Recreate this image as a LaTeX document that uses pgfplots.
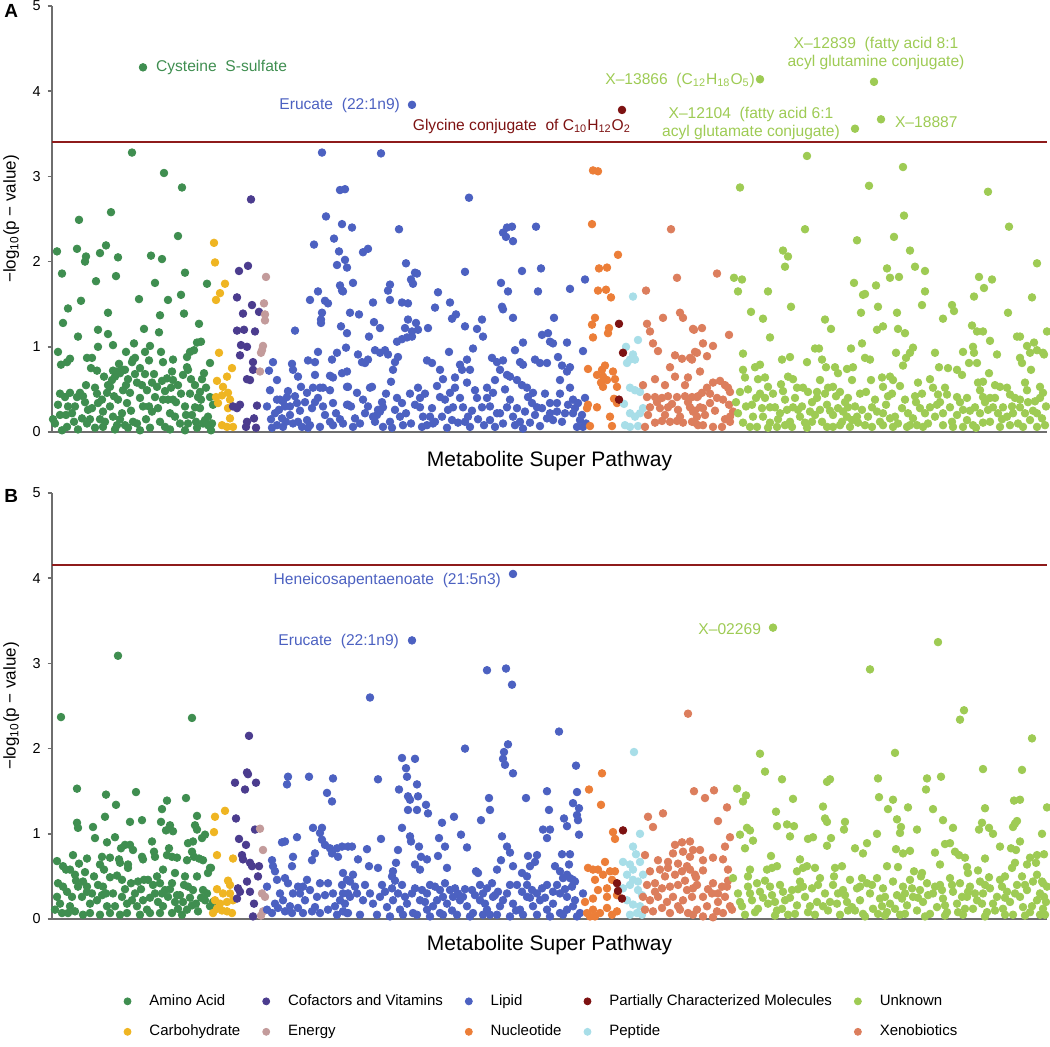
\documentclass[border=0pt]{standalone}
\usepackage{fontspec}
\setmainfont{Liberation Sans}
\usepackage{pgfplots}
\pgfplotsset{compat=1.18}
\definecolor{amino}{HTML}{3F8E50}
\definecolor{carb}{HTML}{EFB522}
\definecolor{cof}{HTML}{4B3C8E}
\definecolor{energy}{HTML}{C39B9B}
\definecolor{lipid}{HTML}{4C61C1}
\definecolor{nucl}{HTML}{EC7E38}
\definecolor{partial}{HTML}{7D1212}
\definecolor{pept}{HTML}{A8DEE8}
\definecolor{unk}{HTML}{9ECB54}
\definecolor{xeno}{HTML}{DC7E5D}
\definecolor{thresh}{HTML}{8E1B1B}
\definecolor{axgray}{HTML}{6E6E6E}
\newcommand\annf{\fontsize{7.8}{9}\selectfont}
\pgfplotsset{
 manh/.style={
  scale only axis, width=497.5pt, height=213pt,
  xmin=52, xmax=1047, ymin=0, ymax=5,
  axis x line=bottom, axis y line=left,
  axis line style={-, draw=axgray, line width=1pt},
  xtick=\empty, ytick={0,1,2,3,4,5},
  tick align=outside, major tick length=2.2pt,
  every tick/.style={draw=axgray, line width=0.8pt},
  /pgf/number format/assume math mode=true,
  y tick label style={font=\fontsize{7.2}{8}\selectfont, text=black},
  ylabel={−log\textsubscript{10}(p − value)},
  ylabel style={at={(axis description cs:-0.041,0.5)}, anchor=center, font=\fontsize{8.5}{10}\selectfont},
  xlabel={Metabolite Super Pathway},
  xlabel style={anchor=center, font=\fontsize{10.5}{12}\selectfont},
  clip=false,
 },
 pt/.style={only marks, mark=*, mark size=1.9pt, forget plot},
 mylegimg/.style={legend image code/.code={\draw[mark repeat=1,##1] plot coordinates {(0pt,0pt)};}},
}
\begin{document}
\begin{tikzpicture}
\useasboundingbox (-26pt,-307pt) rectangle (499pt,216pt);
%%%%%%%%%%%%%%%%%%%%%%%% PANEL A
\begin{axis}[manh, xlabel style={at={(axis description cs:0.5,-0.068)}}]
\addplot[pt,amino] coordinates {(143,4.28) (132,3.28) (164,3.04) (182,2.87) (111,2.58) (79,2.49) (178,2.30) (57,2.12) (77,2.15) (106,2.19) (100,2.10) (86,2.06) (85,2.00) (118,2.05) (151,2.07) (162,2.03) (62,1.86) (185,1.87) (96,1.77) (116,1.83) (155,1.75) (207,1.74) (139,1.56) (168,1.55) (181,1.61) (81,1.54) (68,1.45) (108,1.40) (160,1.37) (184,1.39) (63,1.28) (199,1.27) (98,1.20) (144,1.21) (159,1.17) (108,1.15) (78,1.12) (201,1.06) (197,1.05) (113,1.02) (134,1.04) (98,1.00) (150,1.01) (58,0.94) (126,0.94) (145,0.94) (161,0.94) (190,0.94) (194,0.96) (87,0.87) (92,0.87) (70,0.86) (67,0.82) (61,0.79) (135,0.87) (132,0.82) (173,0.85) (187,0.88) (210,0.81) (91,0.75) (97,0.72) (119,0.80) (125,0.73) (113,0.72) (140,0.75) (149,0.84) (163,0.82) (172,0.71) (188,0.73) (204,0.69) (58,0.32) (60,0.20) (55,0.10) (67,0.06) (65,0.41) (70,0.46) (77,0.41) (72,0.22) (80,0.46) (82,0.16) (88,0.26) (92,0.28) (95,0.52) (98,0.34) (102,0.38) (103,0.24) (107,0.46) (110,0.53) (112,0.61) (115,0.65) (117,0.71) (120,0.69) (123,0.73) (118,0.38) (123,0.49) (127,0.34) (122,0.22) (130,0.46) (117,0.08) (125,0.08) (133,0.85) (137,0.58) (140,0.40) (143,0.30) (137,0.10) (147,0.49) (152,0.58) (155,0.41) (157,0.53) (152,0.24) (163,0.38) (167,0.63) (168,0.38) (165,0.06) (173,0.61) (173,0.38) (178,0.55) (175,0.18) (180,0.10) (183,0.67) (187,0.76) (188,0.10) (192,0.20) (195,0.29) (198,0.41) (200,0.28) (203,0.10) (205,0.14) (208,0.18) (210,0.41) (213,0.32) (208,0.08) (87,0.10) (95,0.05) (150,0.05) (197,0.05) (103,0.06) (53,0.15) (75,0.30) (85,0.35) (100,0.15) (110,0.30) (113,0.18) (128,0.62) (133,0.12) (145,0.68) (158,0.28) (162,0.60) (170,0.22) (185,0.30) (190,0.45) (195,0.55) (202,0.62) (211,0.02) (62,0.02) (78,0.03) (115,0.03) (140,0.02) (170,0.03) (185,0.02) (200,0.47)
(60,0.45) (68,0.30) (74,0.12) (83,0.42) (90,0.15) (97,0.45) (105,0.12) (108,0.55) (114,0.42) (120,0.15) (126,0.55) (131,0.25) (135,0.68) (142,0.55) (146,0.15) (149,0.30) (154,0.68) (160,0.12) (165,0.48) (171,0.52) (176,0.35) (181,0.45) (186,0.20) (191,0.62) (196,0.12) (201,0.38) (206,0.52) (212,0.10) (66,0.20) (86,0.55) (104,0.65) (128,0.05)};
\addplot[pt,carb] coordinates {(214,2.22) (215,1.99) (225,1.74) (220,1.63) (216,1.55) (219,0.93) (232,0.75) (227,0.65) (217,0.60) (223,0.53) (216,0.41) (222,0.43) (228,0.46) (230,0.38) (218,0.34) (228,0.28) (230,0.16) (222,0.08) (227,0.06) (233,0.06)};
\addplot[pt,cof] coordinates {(251,2.73) (248,1.95) (239,1.89) (237,1.58) (252,1.49) (259,1.41) (243,1.39) (237,1.19) (244,1.20) (255,1.18) (241,1.02) (247,1.00) (240,0.90) (253,0.82) (253,0.73) (247,0.62) (250,0.61) (233,0.30) (240,0.32) (237,0.28) (257,0.31) (247,0.12) (254,0.16) (246,0.06) (256,0.05)};
\addplot[pt,energy] coordinates {(266,1.82) (264,1.51) (265,1.38) (265,1.31) (263,1.01) (262,0.96) (261,0.93) (260,0.71)};
\addplot[pt,lipid] coordinates {(412,3.84) (381,3.27) (322,3.28) (340,2.84) (345,2.85) (326,2.53) (342,2.44) (334,2.27) (314,2.20) (339,2.12) (337,1.96) (347,1.93) (340,1.72) (342,1.66) (318,1.65) (310,1.55) (325,1.54) (328,1.51) (322,1.40) (321,1.32) (321,1.28) (341,1.24) (347,1.16) (295,1.19) (318,0.94) (337,0.93) (308,0.84) (315,0.82) (332,0.85) (273,0.82) (292,0.80) (293,0.73) (269,0.72) (315,0.67) (330,0.66) (333,0.64) (298,0.65) (277,0.61) (301,0.53) (313,0.52) (320,0.52) (323,0.52) (330,0.49) (270,0.49) (307,0.46) (287,0.41) (348,0.53) (277,0.38) (280,0.38) (283,0.36) (285,0.30) (267,0.30) (297,0.34) (333,0.34) (312,0.28) (290,0.20) (307,0.14) (282,0.16) (277,0.08) (283,0.06) (293,0.10) (302,0.06) (308,0.05) (320,0.06) (330,0.12) (333,0.08) (347,0.32) (275,0.22) (290,0.30) (298,0.12) (315,0.35) (325,0.20) (340,0.15) (272,0.05) (288,0.48)
(469,2.75) (352,2.40) (399,2.38) (507,2.40) (512,2.41) (503,2.34) (506,2.29) (513,2.24) (536,2.41) (363,2.11) (368,2.15) (345,2.02) (406,1.98) (465,1.88) (522,1.89) (541,1.92) (415,1.87) (417,1.86) (411,1.79) (413,1.74) (353,1.75) (343,1.65) (390,1.73) (388,1.66) (438,1.64) (501,1.75) (508,1.65) (538,1.65) (570,1.68) (585,1.79) (373,1.52) (390,1.55) (402,1.52) (408,1.51) (450,1.52) (435,1.46) (502,1.47) (503,1.44) (350,1.40) (359,1.38) (374,1.29) (380,1.22) (408,1.32) (416,1.28) (405,1.22) (418,1.20) (412,1.18) (428,1.22) (452,1.33) (456,1.38) (465,1.24) (477,1.21) (482,1.32) (483,1.12) (513,1.34) (542,1.14) (548,1.16) (554,1.34) (369,1.12) (397,1.06) (402,1.09) (407,1.11) (412,1.12) (346,0.99) (550,1.06) (553,1.04) (567,1.05) (583,0.95) (375,0.96) (380,0.93) (385,0.96) (388,0.91) (358,0.91) (362,0.82) (365,0.81) (368,0.85) (398,0.88) (449,0.94) (473,0.98) (515,0.96) (523,1.05) (427,0.84) (432,0.81) (395,0.82) (393,0.73) (440,0.73) (460,0.79) (467,0.85) (462,0.73) (470,0.73) (492,0.87) (497,0.82) (503,0.84) (520,0.82) (523,0.79) (535,0.85) (540,0.81) (547,0.81) (558,0.88) (562,0.78) (570,0.76) (567,0.71) (347,0.53) (357,0.46) (363,0.38) (370,0.52) (372,0.53) (391,0.59) (382,0.35) (383,0.29) (378,0.26) (377,0.20) (402,0.34) (395,0.26) (400,0.18) (403,0.08) (420,0.40) (420,0.29) (423,0.18) (427,0.08) (422,0.06) (430,0.18) (437,0.54) (440,0.41) (445,0.38) (450,0.46) (455,0.52) (443,0.62) (455,0.64) (467,0.58) (448,0.26) (453,0.29) (458,0.11) (463,0.29) (468,0.18) (470,0.06) (475,0.49) (477,0.40) (482,0.29) (487,0.40) (487,0.52) (493,0.46) (495,0.61) (500,0.73) (507,0.67) (510,0.65) (517,0.61) (522,0.55) (490,0.14) (497,0.22) (495,0.06) (507,0.29) (513,0.18) (520,0.12) (525,0.24) (527,0.52) (528,0.41) (533,0.46) (532,0.34) (537,0.29) (542,0.28) (530,0.11) (540,0.07) (547,0.16) (553,0.14) (557,0.24) (550,0.34) (557,0.34) (560,0.61) (570,0.52) (573,0.38) (578,0.34) (565,0.22) (573,0.22) (580,0.14) (577,0.06) (583,0.06) (355,0.16) (353,0.06) (365,0.22) (373,0.18) (375,0.12) (380,0.24) (390,0.12) (383,0.06) (342,0.69) (347,0.71) (348,0.32) (410,0.45) (433,0.10) (505,0.50) (515,0.08) (560,0.45) (585,0.40)
(271,0.15) (279,0.26) (286,0.12) (295,0.42) (300,0.25) (305,0.35) (310,0.08) (318,0.40) (323,0.30) (336,0.22) (343,0.10) (351,0.30) (360,0.10) (368,0.30) (386,0.45) (392,0.05) (397,0.40) (406,0.22) (411,0.10) (415,0.32) (418,0.52) (425,0.45) (432,0.28) (435,0.12) (442,0.18) (447,0.05) (452,0.14) (460,0.40) (465,0.12) (472,0.25) (478,0.15) (484,0.08) (490,0.30) (500,0.22) (503,0.10) (510,0.38) (517,0.28) (523,0.04) (535,0.20) (545,0.45) (550,0.22) (562,0.12) (568,0.32) (575,0.28) (582,0.20) (586,0.10)};
\addplot[pt,nucl] coordinates {(593,3.07) (598,3.06) (592,2.44) (618,2.08) (599,1.92) (607,1.93) (598,1.66) (606,1.67) (611,1.58) (595,1.34) (592,1.26) (609,1.22) (608,1.16) (593,1.11) (588,0.74) (597,0.67) (603,0.65) (605,0.78) (602,0.73) (607,0.61) (613,0.71) (615,0.62) (617,0.53) (601,0.58) (603,0.53) (588,0.32) (587,0.28) (597,0.29) (610,0.18) (612,0.07) (590,0.07) (614,0.39) (617,0.34)};
\addplot[pt,pept] coordinates {(633,1.59) (638,1.08) (626,1.00) (633,0.91) (630,0.85) (627,0.81) (635,0.85) (630,0.52) (635,0.49) (640,0.47) (624,0.33) (630,0.22) (635,0.18) (640,0.22) (643,0.28) (625,0.08) (630,0.06) (638,0.07)};
\addplot[pt,partial] coordinates {(622,3.78) (619,1.27) (623,0.93) (619,0.38)};
\addplot[pt,xeno] coordinates {(671,2.38) (677,1.81) (646,1.66) (663,1.34) (680,1.40) (683,1.34) (647,1.27) (650,1.18) (693,1.21) (653,1.04) (658,0.95) (675,0.90) (682,0.86) (690,0.87) (697,0.93) (670,0.76) (688,0.64) (643,0.55) (647,0.41) (655,0.41) (662,0.40) (668,0.42) (677,0.41) (685,0.42) (692,0.41) (698,0.42) (650,0.29) (660,0.28) (668,0.29) (678,0.26) (690,0.29) (695,0.25) (655,0.11) (662,0.13) (670,0.12) (677,0.13) (683,0.11) (692,0.12) (698,0.08) (645,0.06) (717,1.86) (694,1.20) (702,1.22) (729,1.14) (703,1.04) (713,1.01) (695,0.94) (692,0.85) (707,0.89) (700,0.71) (713,0.58) (720,0.60) (725,0.55) (728,0.52) (707,0.52) (702,0.46) (697,0.41) (730,0.47) (710,0.34) (717,0.40) (723,0.38) (729,0.32) (700,0.29) (703,0.28) (693,0.24) (695,0.11) (703,0.08) (713,0.06) (722,0.06) (730,0.12) (733,0.24) (730,0.18) (665,0.55) (685,0.55) (655,0.62) (675,0.65) (648,0.20) (657,0.35) (665,0.20) (672,0.33) (680,0.18) (688,0.35) (697,0.18) (705,0.20) (715,0.25) (725,0.15) (710,0.45)};
\addplot[pt,unk] coordinates {(760,4.14) (874,4.11) (881,3.67) (855,3.56) (807,3.24) (903,3.11) (740,2.87) (869,2.89) (988,2.82) (904,2.54) (805,2.38) (1009,2.41) (857,2.25) (894,2.29) (783,2.13) (788,2.06) (785,1.94) (910,2.13) (915,1.94) (887,1.92) (890,1.81) (899,1.82) (925,1.89) (1037,1.98) (979,1.82) (992,1.79) (984,1.69) (734,1.81) (742,1.79) (854,1.75) (876,1.72) (738,1.65) (768,1.65) (865,1.62) (863,1.61) (925,1.65) (974,1.59) (1032,1.58) (922,1.49) (791,1.47) (952,1.49) (954,1.42) (878,1.47) (751,1.41) (861,1.40) (897,1.40) (1008,1.40) (763,1.33) (825,1.32) (831,1.21) (943,1.33) (877,1.20) (883,1.24) (898,1.21) (905,1.16) (972,1.25) (977,1.18) (983,1.18) (1017,1.12) (1020,1.12) (1047,1.18) (770,1.11) (990,1.07) (743,0.92) (815,0.98) (819,0.98) (851,0.98) (862,1.04) (913,0.99) (910,0.93) (906,0.87) (903,0.78) (896,0.93) (935,0.93) (963,0.94) (973,1.00) (974,0.93) (977,0.81) (969,0.81) (997,0.91) (1027,1.01) (1034,1.05) (1030,0.93) (1037,0.96) (1043,0.93) (1020,0.87) (1022,0.81) (1044,0.91)
(755,0.76) (760,0.79) (790,0.88) (782,0.85) (807,0.82) (822,0.85) (826,0.76) (835,0.76) (838,0.69) (847,0.74) (853,0.76) (870,0.85) (865,0.87) (890,0.65) (893,0.61) (882,0.64) (939,0.76) (948,0.75) (957,0.73) (962,0.67) (989,0.69) (1031,0.73) (745,0.64) (743,0.73) (758,0.62) (765,0.64) (768,0.53) (781,0.56) (788,0.65) (793,0.62) (797,0.52) (803,0.52) (808,0.47) (817,0.47) (820,0.61) (828,0.52) (833,0.53) (840,0.47) (852,0.61) (871,0.61) (883,0.53) (888,0.42) (900,0.54) (918,0.58) (930,0.62) (933,0.52) (947,0.44) (938,0.44) (957,0.41) (967,0.40) (978,0.58) (983,0.59) (980,0.49) (983,0.41) (995,0.55) (1000,0.53) (1007,0.52) (1010,0.44) (1015,0.40) (1020,0.38) (1025,0.58) (1027,0.49) (1040,0.53) (1043,0.46)
(740,0.47) (738,0.22) (743,0.11) (750,0.06) (757,0.06) (752,0.32) (753,0.18) (765,0.40) (770,0.29) (775,0.29) (780,0.22) (763,0.18) (770,0.11) (785,0.38) (787,0.26) (793,0.29) (798,0.26) (800,0.18) (805,0.11) (812,0.12) (810,0.24) (815,0.20) (820,0.26) (817,0.40) (827,0.32) (785,0.08) (792,0.06) (777,0.06) (827,0.06) (833,0.06) (840,0.08) (833,0.20) (838,0.28) (843,0.24) (848,0.29) (847,0.18) (852,0.14) (857,0.18) (862,0.26) (858,0.11) (865,0.08) (872,0.06) (872,0.29) (877,0.24) (883,0.22) (890,0.16) (895,0.18) (902,0.28) (908,0.22) (913,0.16) (920,0.28) (883,0.08) (893,0.06) (907,0.06) (917,0.08) (923,0.06) (925,0.22) (930,0.29) (937,0.32) (935,0.18) (943,0.22) (950,0.29) (957,0.20) (963,0.26) (967,0.14) (943,0.08) (953,0.06) (963,0.06) (973,0.08) (983,0.11) (975,0.29) (980,0.22) (988,0.26) (993,0.29) (998,0.22) (1003,0.29) (1007,0.18) (1013,0.22) (1020,0.29) (1025,0.22) (1030,0.14) (1037,0.22) (1042,0.16) (1045,0.08) (1037,0.06) (1023,0.06) (1010,0.08) (1000,0.06) (760,0.45) (848,0.40) (866,0.47) (915,0.42) (990,0.40) (1035,0.36)
(736,0.35) (746,0.30) (748,0.50) (756,0.40) (762,0.28) (768,0.05) (773,0.45) (778,0.15) (783,0.48) (790,0.12) (795,0.40) (802,0.30) (807,0.05) (812,0.35) (822,0.12) (825,0.45) (830,0.25) (836,0.42) (842,0.12) (845,0.35) (850,0.06) (855,0.30) (860,0.45) (868,0.18) (875,0.38) (880,0.12) (886,0.32) (892,0.45) (898,0.10) (905,0.38) (910,0.08) (916,0.35) (922,0.45) (928,0.10) (940,0.35) (945,0.52) (952,0.12) (960,0.35) (970,0.25) (976,0.05) (985,0.35) (990,0.12) (995,0.40) (1002,0.15) (1012,0.30) (1018,0.10) (1028,0.35) (1033,0.25) (1040,0.40) (1046,0.30)};
\addplot[thresh, line width=1pt, forget plot] coordinates {(52,3.40) (1047,3.40)};
\node[anchor=center, font=\bfseries\fontsize{9.5}{11}\selectfont] at (rel axis cs:-0.041,0.989) {A};
\node[anchor=west, text=amino, font=\annf] at (axis cs:149,4.28) {Cysteine\ \ S-sulfate};
\node[anchor=east, text=lipid, font=\annf] at (axis cs:407,3.83) {Erucate\ \ (22:1n9)};
\node[anchor=east, text=partial, font=\annf] at (axis cs:638,3.59) {Glycine conjugate\ \ of C\textsubscript{10}H\textsubscript{12}O\textsubscript{2}};
\node[anchor=east, text=unk, font=\annf] at (axis cs:762,4.13) {X–13866\ \ (C\textsubscript{12}H\textsubscript{18}O\textsubscript{5})};
\node[align=center, text=unk, font=\annf] at (axis cs:876,4.44) {X–12839\ \ (fatty acid 8:1\\acyl glutamine conjugate)};
\node[align=center, text=unk, font=\annf] at (axis cs:751,3.62) {X–12104\ \ (fatty acid 6:1\\acyl glutamate conjugate)};
\node[anchor=west, text=unk, font=\annf] at (axis cs:888,3.64) {X–18887};
\end{axis}
%%%%%%%%%%%%%%%%%%%%%%%% PANEL B
\begin{axis}[manh, at={(0pt,-243.5pt)},
  xlabel style={at={(axis description cs:0.5,-0.062)}},
  legend columns=5, legend cell align=left,
  legend style={at={(axis description cs:0.0724,-0.177)}, anchor=north west, draw=none, fill=none,
    inner sep=0pt, outer sep=0pt, nodes={inner sep=0pt}, font=\fontsize{7.5}{9}\selectfont,
    row sep=8.3pt,
    /tikz/every odd column/.append style={column sep=9.2pt},
    /tikz/every even column/.append style={column sep=11.2pt}},
]
\addplot[pt,amino] coordinates {(61,2.37) (118,3.09) (192,2.36) (77,1.53) (106,1.46) (136,1.49) (186,1.42) (116,1.34) (167,1.39) (162,1.29) (105,1.20) (197,1.21) (77,1.13) (78,1.07) (93,1.08) (130,1.14) (142,1.16) (161,1.14) (166,1.04) (170,1.10) (173,1.03) (195,1.10) (197,1.05) (202,0.95) (205,0.99) (95,0.95) (115,0.96) (107,0.90) (152,0.91) (188,0.89) (193,0.91) (121,0.83) (125,0.87) (130,0.87) (133,0.81) (169,0.83) (57,0.68) (73,0.75) (87,0.71) (102,0.73) (100,0.64) (110,0.72) (119,0.70) (120,0.66) (128,0.64) (128,0.60) (142,0.73) (143,0.70) (154,0.79) (155,0.73) (167,0.75) (172,0.73) (177,0.72) (187,0.69) (192,0.79) (194,0.73) (199,0.71) (203,0.69) (210,0.60) (63,0.62) (66,0.58) (70,0.58) (75,0.52) (79,0.65) (83,0.44) (87,0.38) (94,0.50) (104,0.58) (110,0.49) (117,0.51) (122,0.46) (131,0.42) (138,0.44) (144,0.46) (148,0.46) (157,0.50) (163,0.58) (160,0.42) (165,0.34) (175,0.54) (172,0.42) (177,0.28) (185,0.50) (188,0.38) (193,0.34) (197,0.50) (203,0.34) (208,0.54) (211,0.60) (57,0.26) (60,0.18) (63,0.38) (67,0.32) (72,0.26) (78,0.38) (82,0.26) (87,0.32) (90,0.18) (97,0.22) (103,0.38) (102,0.28) (107,0.15) (113,0.30) (122,0.26) (127,0.18) (132,0.22) (137,0.15) (143,0.22) (147,0.11) (155,0.30) (158,0.20) (163,0.15) (168,0.26) (175,0.20) (180,0.28) (183,0.20) (187,0.11) (192,0.16) (198,0.09) (205,0.22) (210,0.15) (213,0.20) (55,0.11) (62,0.07) (68,0.07) (75,0.09) (83,0.05) (90,0.07) (100,0.05) (110,0.07) (120,0.05) (127,0.07) (140,0.05) (150,0.07) (160,0.07) (172,0.07) (182,0.05)
(58,0.42) (70,0.15) (76,0.45) (85,0.55) (92,0.30) (98,0.40) (106,0.30) (115,0.15) (125,0.35) (135,0.30) (141,0.35) (150,0.25) (153,0.40) (162,0.30) (170,0.35) (178,0.12) (184,0.40) (190,0.25) (196,0.18) (201,0.25) (207,0.30)};
\addplot[pt,carb] coordinates {(225,1.27) (215,1.20) (214,1.02) (217,0.75) (233,0.71) (228,0.45) (230,0.40) (217,0.35) (223,0.30) (230,0.30) (215,0.22) (220,0.18) (227,0.20) (233,0.22) (217,0.12) (222,0.10) (227,0.09) (232,0.07) (213,0.07)};
\addplot[pt,cof] coordinates {(249,2.15) (247,1.72) (248,1.70) (235,1.60) (256,1.60) (245,1.52) (236,1.18) (255,1.05) (239,0.94) (246,0.87) (242,0.75) (243,0.70) (250,0.66) (252,0.62) (259,0.62) (258,0.50) (247,0.44) (238,0.36) (240,0.32) (250,0.32) (237,0.24) (254,0.18) (253,0.03)};
\addplot[pt,energy] coordinates {(260,1.06) (263,0.81) (262,0.30) (265,0.26) (263,0.09) (261,0.04)};
\addplot[pt,lipid] coordinates {(288,1.67) (287,1.58) (309,1.67) (333,1.65) (327,1.48) (332,1.38) (313,1.07) (322,1.07) (320,1.01) (297,0.96) (282,0.90) (285,0.91) (272,0.69) (293,0.73) (292,0.62) (315,0.77) (312,0.69) (322,0.93) (325,0.87) (330,0.83) (332,0.77) (337,0.83) (342,0.85) (338,0.73) (348,0.85) (273,0.62) (275,0.56) (267,0.38) (277,0.46) (285,0.48) (288,0.42) (280,0.30) (283,0.22) (293,0.30) (298,0.38) (300,0.30) (303,0.38) (307,0.46) (310,0.34) (317,0.26) (320,0.42) (328,0.42) (333,0.30) (340,0.22) (347,0.46) (348,0.30) (267,0.11) (272,0.07) (278,0.13) (285,0.09) (292,0.07) (298,0.13) (303,0.07) (312,0.09) (320,0.07) (328,0.11) (337,0.05) (343,0.09) (348,0.07)
(513,4.05) (412,3.27) (487,2.92) (506,2.94) (512,2.75) (370,2.60) (559,2.20) (465,2.00) (508,2.05) (504,1.96) (503,1.88) (505,1.81) (513,1.71) (402,1.89) (415,1.88) (406,1.77) (407,1.67) (378,1.64) (576,1.80) (399,1.52) (417,1.58) (408,1.44) (410,1.40) (418,1.44) (426,1.34) (428,1.24) (489,1.42) (490,1.28) (526,1.42) (547,1.50) (549,1.28) (577,1.49) (573,1.36) (579,1.30) (577,1.22) (578,1.16) (408,1.28) (417,1.28) (454,1.20) (442,1.13) (481,1.16) (402,1.07) (564,1.18) (567,1.09) (543,1.05) (550,1.05) (381,0.94) (410,0.97) (411,0.91) (419,0.85) (439,0.95) (461,0.99) (502,0.97) (547,0.95) (579,0.99) (352,0.85) (367,0.82) (398,0.81) (445,0.85) (467,0.84) (507,0.85) (510,0.78) (421,0.73) (427,0.70) (438,0.74) (528,0.74) (537,0.75) (535,0.67) (562,0.76) (570,0.76) (358,0.70) (396,0.66) (369,0.62) (378,0.60) (501,0.69) (513,0.62) (530,0.62) (555,0.62) (569,0.64) (393,0.56) (392,0.50) (415,0.64) (420,0.58) (447,0.60) (476,0.56) (478,0.54) (497,0.58) (522,0.54) (527,0.50) (560,0.56) (563,0.48) (570,0.48) (573,0.46) (567,0.52) (343,0.54) (353,0.52) (350,0.44) (342,0.40)
(382,0.40) (392,0.36) (398,0.30) (402,0.40) (415,0.36) (422,0.34) (427,0.30) (430,0.40) (435,0.38) (440,0.34) (443,0.26) (450,0.34) (455,0.36) (458,0.30) (463,0.26) (472,0.34) (480,0.40) (483,0.30) (487,0.36) (492,0.42) (495,0.28) (498,0.32) (517,0.40) (522,0.32) (527,0.40) (532,0.34) (537,0.30) (542,0.36) (547,0.40) (553,0.32) (560,0.30) (567,0.26) (572,0.38) (575,0.44) (343,0.30) (350,0.26) (357,0.30) (363,0.22) (370,0.30) (373,0.18) (380,0.26) (387,0.14) (393,0.22) (400,0.11) (407,0.18) (413,0.07) (420,0.22) (427,0.11) (433,0.15) (440,0.07) (447,0.18) (453,0.26) (460,0.22) (467,0.15) (473,0.07) (480,0.22) (487,0.11) (493,0.26) (500,0.15) (507,0.30) (513,0.18) (520,0.11) (527,0.26) (533,0.15) (540,0.22) (547,0.11) (553,0.18) (560,0.07) (567,0.11) (573,0.15) (580,0.07) (347,0.07) (360,0.05) (377,0.05) (390,0.03) (403,0.05) (417,0.05) (430,0.03) (443,0.05) (457,0.05) (470,0.03) (483,0.05) (497,0.05) (510,0.03) (523,0.05) (537,0.05) (550,0.03) (563,0.05) (577,0.03)
(275,0.18) (290,0.15) (305,0.22) (315,0.14) (325,0.28) (335,0.15) (345,0.18) (355,0.38) (365,0.40) (385,0.32) (395,0.45) (405,0.26) (412,0.30) (425,0.20) (437,0.22) (445,0.42) (452,0.10) (465,0.35) (475,0.28) (485,0.18) (490,0.05) (503,0.22) (510,0.40) (516,0.10) (530,0.25) (545,0.25) (557,0.40) (565,0.35) (575,0.22) (583,0.30)};
\addplot[pt,nucl] coordinates {(602,1.71) (589,1.52) (601,1.34) (613,1.02) (615,0.94) (605,0.67) (588,0.60) (593,0.58) (598,0.58) (603,0.52) (610,0.56) (615,0.56) (595,0.46) (598,0.34) (607,0.36) (612,0.46) (585,0.20) (593,0.24) (607,0.26) (617,0.28) (587,0.07) (593,0.11) (600,0.07) (607,0.13) (612,0.05) (617,0.09) (590,0.03) (595,0.03)};
\addplot[pt,pept] coordinates {(634,1.96) (640,1.00) (633,0.85) (636,0.76) (623,0.67) (630,0.64) (633,0.58) (640,0.67) (627,0.52) (633,0.46) (638,0.44) (643,0.52) (623,0.36) (630,0.40) (638,0.34) (642,0.28) (627,0.22) (633,0.17) (640,0.15) (637,0.07) (630,0.05) (642,0.05)};
\addplot[pt,partial] coordinates {(623,1.04) (617,0.42) (618,0.33) (622,0.24)};
\addplot[pt,xeno] coordinates {(688,2.41) (694,1.50) (663,1.24) (648,1.20) (653,1.08) (675,0.87) (682,0.90) (690,0.91) (673,0.77) (683,0.79) (690,0.73) (693,0.81) (645,0.75) (658,0.69) (668,0.67) (678,0.65) (687,0.62) (650,0.56) (660,0.58) (668,0.60) (675,0.52) (682,0.56) (690,0.58) (695,0.52) (647,0.40) (655,0.42) (662,0.36) (670,0.38) (678,0.40) (687,0.34) (693,0.36) (643,0.26) (650,0.22) (658,0.26) (667,0.20) (673,0.26) (683,0.22) (692,0.26) (645,0.11) (653,0.09) (662,0.13) (670,0.07) (680,0.11) (688,0.07) (697,0.11) (705,1.42) (714,1.51) (727,1.31) (718,1.15) (700,0.81) (725,0.85) (730,0.96) (703,0.69) (713,0.72) (723,0.70) (703,0.57) (696,0.49) (713,0.42) (722,0.38) (728,0.58) (727,0.38) (703,0.26) (712,0.30) (718,0.20) (725,0.26) (730,0.15) (707,0.15) (717,0.09) (723,0.07) (732,0.11) (693,0.05) (703,0.03) (713,0.02) (655,0.32) (665,0.50) (678,0.15) (685,0.45) (697,0.40) (708,0.35) (718,0.30) (728,0.45)};
\addplot[pt,unk] coordinates {(773,3.42) (938,3.25) (870,2.93) (964,2.45) (960,2.34) (1032,2.12) (760,1.94) (895,1.95) (765,1.73) (983,1.76) (1022,1.75) (782,1.64) (830,1.64) (827,1.61) (878,1.65) (927,1.65) (941,1.67) (737,1.53) (746,1.45) (743,1.38) (793,1.41) (926,1.52) (879,1.43) (893,1.40) (1014,1.39) (1020,1.40) (823,1.32) (888,1.29) (908,1.31) (933,1.29) (985,1.30) (1047,1.31) (776,1.26) (825,1.18) (827,1.14) (845,1.14) (844,1.05) (897,1.17) (901,1.08) (900,1.01) (943,1.16) (777,1.09) (787,1.11) (794,1.09) (982,1.13) (979,1.05) (989,1.07) (993,1.00) (1015,1.12) (1017,1.15) (1013,1.08) (953,1.07) (917,1.05) (740,0.99) (747,1.07) (750,1.04) (790,0.97) (877,1.00) (1042,1.00) (808,0.94) (813,0.96) (831,0.95) (827,0.86) (867,0.89) (863,0.77) (855,0.83) (910,0.80) (945,0.88) (950,0.89) (1020,0.91) (1000,0.85) (1011,0.83) (1016,0.81) (745,0.83) (753,0.92) (771,0.74) (896,0.82) (903,0.77) (935,0.78) (955,0.79) (959,0.75) (965,0.72) (985,0.71) (1030,0.72) (1037,0.75) (1044,0.76) (1036,0.66) (800,0.70) (807,0.62) (803,0.60) (733,0.48) (750,0.58) (748,0.50) (767,0.58) (772,0.60) (777,0.62) (797,0.56) (815,0.60) (835,0.60) (842,0.62) (834,0.50) (887,0.62) (898,0.61) (914,0.56) (922,0.54) (940,0.64) (967,0.61) (968,0.54) (978,0.57) (989,0.49) (1005,0.50) (1012,0.60) (1015,0.66) (1027,0.64) (1037,0.52) (1043,0.42)
(738,0.30) (742,0.15) (748,0.38) (752,0.22) (755,0.08) (760,0.32) (765,0.45) (768,0.18) (772,0.28) (777,0.10) (780,0.40) (785,0.22) (788,0.05) (792,0.34) (797,0.16) (800,0.44) (805,0.26) (808,0.08) (812,0.36) (817,0.20) (820,0.48) (825,0.30) (828,0.10) (833,0.40) (837,0.18) (840,0.05) (845,0.28) (850,0.46) (852,0.14) (857,0.36) (860,0.22) (863,0.06) (867,0.42) (870,0.30) (873,0.12) (877,0.48) (880,0.24) (883,0.36) (887,0.08) (890,0.18) (893,0.44) (897,0.28) (900,0.05) (903,0.38) (907,0.16) (910,0.46) (913,0.26) (917,0.10) (920,0.34) (923,0.20) (927,0.42) (930,0.06) (933,0.30) (937,0.14) (940,0.40) (943,0.24) (947,0.08) (950,0.48) (953,0.32) (957,0.18) (960,0.42) (963,0.05) (967,0.26) (970,0.38) (973,0.12) (977,0.22) (980,0.44) (983,0.30) (987,0.08) (990,0.36) (993,0.18) (997,0.26) (1000,0.46) (1003,0.12) (1007,0.32) (1010,0.20) (1013,0.05) (1017,0.40) (1020,0.26) (1023,0.14) (1027,0.34) (1030,0.08) (1033,0.44) (1037,0.22) (1040,0.30) (1043,0.12) (1046,0.20) (1047,0.38) (745,0.05) (758,0.12) (775,0.04) (795,0.06) (815,0.05) (848,0.10) (865,0.03) (885,0.04) (905,0.06) (925,0.03) (945,0.04) (965,0.12) (985,0.03) (1005,0.05) (1025,0.04) (1045,0.05) (763,0.25) (783,0.32) (803,0.38) (823,0.15) (843,0.34) (862,0.48) (882,0.15) (902,0.24) (921,0.50) (942,0.34) (962,0.26) (982,0.18) (1002,0.38) (1022,0.50) (1042,0.44)
(740,0.20) (750,0.30) (757,0.42) (770,0.38) (775,0.20) (782,0.12) (790,0.25) (798,0.35) (810,0.15) (818,0.40) (830,0.20) (838,0.30) (847,0.20) (855,0.10) (860,0.38) (872,0.40) (878,0.06) (885,0.26) (895,0.12) (905,0.30) (912,0.36) (918,0.25) (928,0.28) (935,0.38) (945,0.16) (952,0.40) (958,0.08) (968,0.32) (975,0.30) (985,0.40) (995,0.10) (1005,0.25) (1015,0.30) (1025,0.40) (1032,0.15) (1040,0.05) (1044,0.26)};
\addplot[thresh, line width=1pt, forget plot] coordinates {(52,4.15) (1047,4.15)};
\node[anchor=center, font=\bfseries\fontsize{9.5}{11}\selectfont] at (rel axis cs:-0.041,0.992) {B};
\node[anchor=east, text=lipid, font=\annf] at (axis cs:508,3.97) {Heneicosapentaenoate\ \ (21:5n3)};
\node[anchor=east, text=lipid, font=\annf] at (axis cs:406,3.26) {Erucate\ \ (22:1n9)};
\node[anchor=east, text=unk, font=\annf] at (axis cs:768,3.40) {X–02269};
% legend (row-wise order matching reference)
\addlegendimage{only marks,mark=*,mark size=1.75pt,color=amino,mylegimg}\addlegendentry{Amino Acid}
\addlegendimage{only marks,mark=*,mark size=1.75pt,color=cof,mylegimg}\addlegendentry{Cofactors and Vitamins}
\addlegendimage{only marks,mark=*,mark size=1.75pt,color=lipid,mylegimg}\addlegendentry{Lipid}
\addlegendimage{only marks,mark=*,mark size=1.75pt,color=partial,mylegimg}\addlegendentry{Partially Characterized Molecules}
\addlegendimage{only marks,mark=*,mark size=1.75pt,color=unk,mylegimg}\addlegendentry{Unknown}
\addlegendimage{only marks,mark=*,mark size=1.75pt,color=carb,mylegimg}\addlegendentry{Carbohydrate}
\addlegendimage{only marks,mark=*,mark size=1.75pt,color=energy,mylegimg}\addlegendentry{Energy}
\addlegendimage{only marks,mark=*,mark size=1.75pt,color=nucl,mylegimg}\addlegendentry{Nucleotide}
\addlegendimage{only marks,mark=*,mark size=1.75pt,color=pept,mylegimg}\addlegendentry{Peptide}
\addlegendimage{only marks,mark=*,mark size=1.75pt,color=xeno,mylegimg}\addlegendentry{Xenobiotics}
\end{axis}
\end{tikzpicture}
\end{document}
